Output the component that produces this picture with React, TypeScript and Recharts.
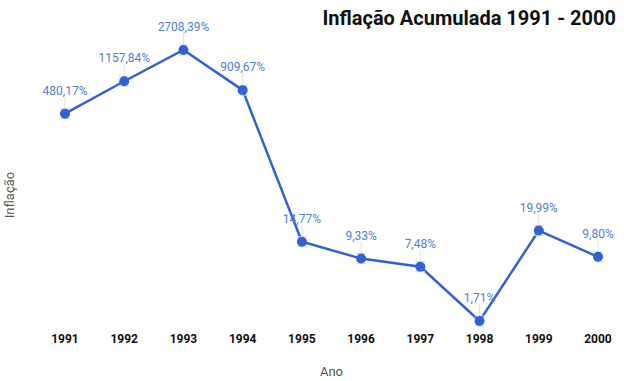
import { LineChart, Line, XAxis, YAxis, LabelList } from 'recharts';

const years = [1991, 1992, 1993, 1994, 1995, 1996, 1997, 1998, 1999, 2000];
const inflation = [480.17, 1157.84, 2708.39, 909.67, 14.77, 9.33, 7.48, 1.71, 19.99, 9.8];

const data = years.map((ano, i) => ({ ano, inflacao: inflation[i] }));

const FONT = 'Roboto, "Noto Sans", sans-serif';
const LINE = '#3163d0';
const LABEL = '#4f7ede';

const fmt = (v: number) => v.toFixed(2).replace('.', ',') + '%';

function PointLabel(props: any) {
  const { x, y, value } = props;
  return (
    <g>
      <line x1={x} x2={x} y1={y - 17} y2={y - 5} stroke="#e2e2e2" strokeWidth={1} />
      <text x={x} y={y - 19} textAnchor="middle" fontSize={12} fill={LABEL} fontFamily={FONT}>
        {fmt(value)}
      </text>
    </g>
  );
}

function Dot(props: any) {
  const { cx, cy } = props;
  return (
    <g>
      <line x1={cx - 5} x2={cx + 5} y1={cy - 5} y2={cy - 5} stroke="#c9d6f2" strokeWidth={1} />
      <line x1={cx - 5} x2={cx + 5} y1={cy + 5} y2={cy + 5} stroke="#c9d6f2" strokeWidth={1} />
      <circle cx={cx} cy={cy} r={5} fill={LINE} />
    </g>
  );
}

export default function App() {
  const lo = Math.min(...inflation);
  const hi = Math.max(...inflation);
  return (
    <div style={{ position: 'absolute', left: 0, top: 0, width: 624, height: 381, background: '#fff' }}>
      <div
        style={{
          position: 'absolute',
          right: 8,
          top: 6,
          fontFamily: FONT,
          fontWeight: 700,
          fontSize: 20,
          color: '#111',
          whiteSpace: 'nowrap',
        }}
      >
        Inflação Acumulada 1991 - 2000
      </div>
      <LineChart width={624} height={381} data={data} margin={{ top: 50, right: 26, bottom: 30, left: 0 }}>
        <XAxis
          dataKey="ano"
          type="number"
          domain={[1991, 2000]}
          ticks={years}
          axisLine={false}
          tickLine={false}
          tickSize={0}
          tickMargin={13}
          height={30}
          tick={{ fontSize: 12, fontWeight: 700, fill: '#111', fontFamily: FONT }}
          label={{ value: 'Ano', position: 'bottom', offset: 16, fontSize: 13, fill: '#555', fontFamily: FONT }}
        />
        <YAxis
          scale="log"
          type="number"
          domain={[lo, hi]}
          width={65}
          axisLine={false}
          tickLine={false}
          tick={false}
          label={() => (
            <text
              x={14}
              y={195}
              transform="rotate(-90 14 195)"
              textAnchor="middle"
              fontSize={13}
              fill="#555"
              fontFamily={FONT}
            >
              Inflação
            </text>
          )}
        />
        <Line
          dataKey="inflacao"
          stroke={LINE}
          strokeWidth={2.5}
          dot={<Dot />}
          activeDot={false}
          isAnimationActive={false}
        >
          <LabelList dataKey="inflacao" content={<PointLabel />} />
        </Line>
      </LineChart>
    </div>
  );
}
